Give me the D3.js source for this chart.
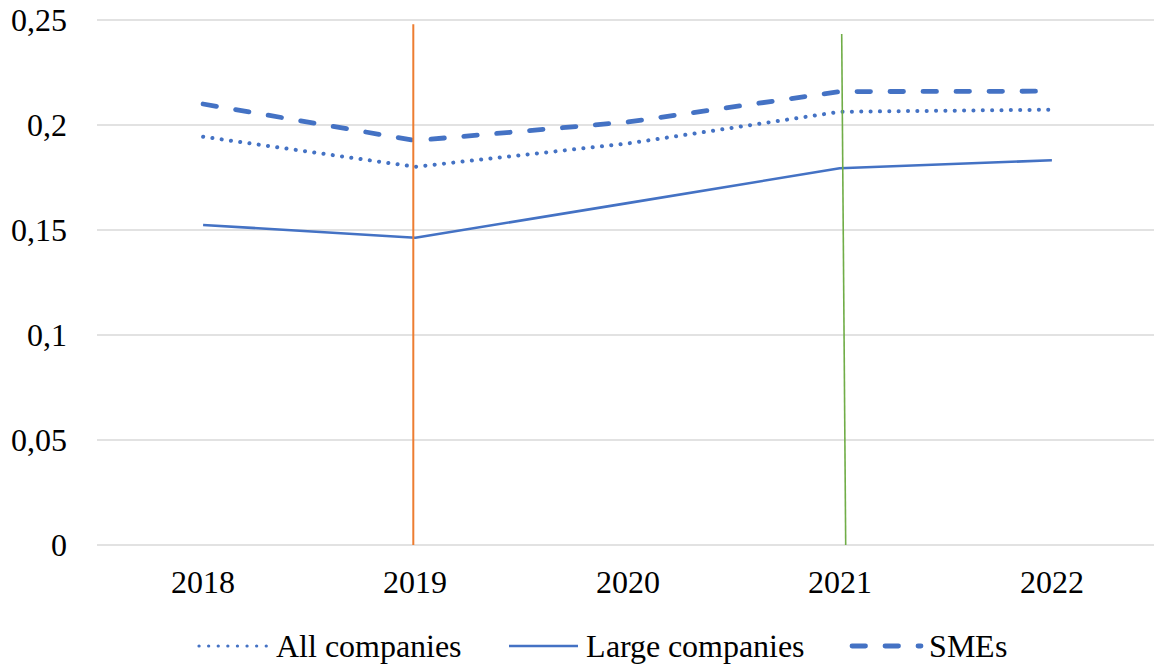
<!DOCTYPE html>
<html>
<head>
<meta charset="utf-8">
<script src="https://cdn.jsdelivr.net/npm/d3@7"></script>
<style>
  @font-face {
    font-family: "RefSerif";
    src: local("Liberation Serif"), local("LiberationSerif"), local("LiberationSerif-Regular"),
         local("Liberation Serif Regular"), local("DejaVu Serif"), local("DejaVuSerif"),
         local("Times New Roman"), local("TimesNewRomanPSMT");
  }
  html, body { margin: 0; padding: 0; background: #fff; }
  svg { display: block; }
  svg text { font-family: "RefSerif", "Liberation Serif", "DejaVu Serif", serif !important; fill: #000; }
</style>
</head>
<body>
<svg id="chart" width="1154" height="665"></svg>
<script>
// ---- data ----
const years = ["2018", "2019", "2020", "2021", "2022"];
const allCompanies = [0.1944, 0.1801, 0.1912, 0.2063, 0.2073];
const largeCompanies = [0.1524, 0.1463, 0.1628, 0.1794, 0.1832];
const smes = [0.2100, 0.1926, 0.2014, 0.2159, 0.2161];
const seriesNames = ["All companies", "Large companies", "SMEs"];
const yTicks = [0, 0.05, 0.1, 0.15, 0.2, 0.25];
const yTickLabels = ["0", "0,05", "0,1", "0,15", "0,2", "0,25"];
const markerYears = ["2019", "2021"];
const markerTops = [0.248, 0.2433];

// ---- styles ----
const blue = "#4472C4";
const markerColors = ["#ED7D31", "#70AD47"];
const lineStyles = [
  { width: 4, dash: "0.1,9.25", cap: "round" },
  { width: 2.6, dash: null, cap: "butt" },
  { width: 4.8, dash: "13.5,19.5", cap: "round" }
];
const FONT = '"RefSerif", "Liberation Serif", "DejaVu Serif", serif';

const svg = d3.select("#chart");
const x = d3.scaleBand().domain(years).range([97, 1158]).padding(0);
const y = d3.scaleLinear().domain([0, 0.25]).range([545, 20]);
const cx = d => x(d) + x.bandwidth() / 2;

// gridlines
svg.append("g").selectAll("line").data(yTicks).join("line")
  .attr("x1", 97).attr("x2", 1158)
  .attr("y1", d => y(d)).attr("y2", d => y(d))
  .attr("stroke", "#d9d9d9").attr("stroke-width", 1.3);

// y axis labels
const yAxis = d3.axisLeft(y).tickValues(yTicks)
  .tickFormat((d, i) => yTickLabels[i]).tickSize(0).tickPadding(0);
const yg = svg.append("g").attr("transform", "translate(67,0)").call(yAxis)
  .attr("font-family", FONT).attr("font-size", 32);
yg.select(".domain").remove();
yg.selectAll("text").attr("dy", "0.34em").attr("fill", "#000");

// x axis labels
const xAxis = d3.axisBottom(x).tickSize(0).tickPadding(0);
const xg = svg.append("g").attr("transform", "translate(0,545)").call(xAxis)
  .attr("font-family", FONT).attr("font-size", 32);
xg.select(".domain").remove();
xg.selectAll("text").attr("dy", null).attr("y", 48).attr("fill", "#000");

// series
const allSeries = [allCompanies, largeCompanies, smes];
const line = d3.line().x((d, i) => cx(years[i])).y(d => y(d));
allSeries.forEach((vals, s) => {
  const st = lineStyles[s];
  svg.append("path").datum(vals)
    .attr("d", line)
    .attr("fill", "none")
    .attr("stroke", blue)
    .attr("stroke-width", st.width)
    .attr("stroke-linecap", st.cap)
    .attr("stroke-linejoin", "round")
    .attr("stroke-dasharray", st.dash);
});

// marker lines
const slant = [0, 4];
const topShift = [-2, 2];
markerYears.forEach((yr, i) => {
  svg.append("line")
    .attr("x1", cx(yr) + topShift[i]).attr("y1", y(markerTops[i]))
    .attr("x2", cx(yr) + topShift[i] + slant[i]).attr("y2", y(0))
    .attr("stroke", markerColors[i]).attr("stroke-width", i === 0 ? 2 : 1.6);
});

// legend
const legend = svg.append("g").attr("font-family", FONT);
let lx = 199;
const ly = 646;
const symLen = 69;
seriesNames.forEach((name, s) => {
  const st = lineStyles[s];
  legend.append("line")
    .attr("x1", lx).attr("x2", lx + symLen).attr("y1", ly).attr("y2", ly)
    .attr("stroke", blue)
    .attr("stroke-width", s === 0 ? 3.2 : st.width)
    .attr("stroke-linecap", st.cap)
    .attr("stroke-dasharray", s === 0 ? "0.1,9.5" : st.dash);
  const t = legend.append("text")
    .attr("x", lx + symLen + 8).attr("y", 656.5)
    .attr("font-size", 32).text(name);
  lx = lx + symLen + 8 + t.node().getComputedTextLength() + 48;
});
</script>
</body>
</html>
